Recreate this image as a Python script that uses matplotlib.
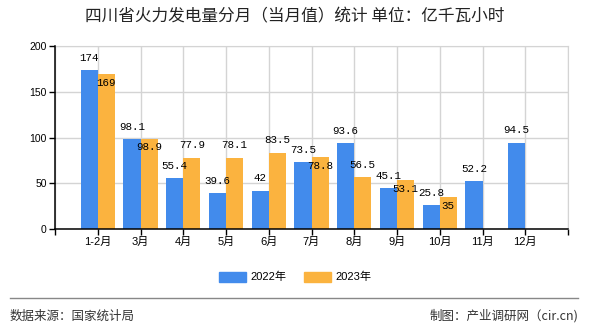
import numpy as np
import matplotlib
matplotlib.use("Agg")
import matplotlib.pyplot as plt
from matplotlib.patches import Patch
from matplotlib.lines import Line2D

plt.rcParams['font.family'] = ['Liberation Sans', 'Noto Sans CJK SC']

months = ['1-2月', '3月', '4月', '5月', '6月', '7月', '8月', '9月', '10月', '11月', '12月']
v2022 = [174, 98.1, 55.4, 39.6, 42, 73.5, 93.6, 45.1, 25.8, 52.2, 94.5]
v2023 = [169, 98.9, 77.9, 78.1, 83.5, 78.8, 56.5, 53.1, 35, np.nan, np.nan]
series_names = ['2022年', '2023年']
c2022 = '#428BEC'
c2023 = '#FBB33F'

fig = plt.figure(figsize=(5.9, 3.3), dpi=100)
ax = fig.add_axes([55 / 590, 1 - 229 / 330, 513 / 590, 183 / 330])

x = np.arange(1, len(months) + 1)
w = 0.4
ax.bar(x - w / 2, v2022, w, color=c2022, zorder=3)
ax.bar(x + w / 2, v2023, w, color=c2023, zorder=3)

# value labels, 2023 label goes under the bar top when it would hit the 2022 one
lab_font = dict(family='Liberation Mono', fontsize=7.8, ha='center', va='center', zorder=5)
for xi, b, o in zip(x, v2022, v2023):
    ax.annotate(f'{b:g}', (xi - w / 2, b), xytext=(0, 8.8), textcoords='offset points', **lab_font)
    if np.isnan(o):
        continue
    if abs(o - b) < 12:
        ax.annotate(f'{o:g}', (xi + w / 2, o), xytext=(0, -6.2), textcoords='offset points', **lab_font)
    else:
        ax.annotate(f'{o:g}', (xi + w / 2, o), xytext=(0, 9.2), textcoords='offset points', **lab_font)

ax.set_xlim(0, len(months) + 1)
ax.set_ylim(0, 200)
ax.set_yticks([0, 50, 100, 150, 200])
ax.set_xticks(np.arange(0, len(months) + 2))
ax.set_xticklabels([''] + months + [''])
ax.tick_params(axis='both', direction='out', length=4, width=1, color='black', labelsize=7.5, pad=2)
ax.tick_params(axis='x', labelsize=8)
ax.grid(True, color='#d4d4d4', lw=1, zorder=0)
for s in ['top', 'right']:
    ax.spines[s].set_color('#d4d4d4')
for s in ['left', 'bottom']:
    ax.spines[s].set_color('black')
    ax.spines[s].set_linewidth(1.1)
    ax.spines[s].set_zorder(4)

fig.text(0.5, 1 - 17 / 330, '四川省火力发电量分月（当月值）统计 单位：亿千瓦小时',
         ha='center', va='center', fontsize=12, family='Noto Sans CJK SC', color='#222222')

handles = [Patch(color=c2022), Patch(color=c2023)]
fig.legend(handles, series_names, loc='center', bbox_to_anchor=(0.5, 1 - 277 / 330), ncol=2,
           frameon=False, handlelength=2.4, handleheight=1.0, handletextpad=0.4,
           columnspacing=1.6, prop={'family': ['Liberation Sans', 'Noto Sans CJK SC'], 'size': 8})

fig.add_artist(Line2D([10 / 590, 578 / 590], [1 - 298 / 330, 1 - 298 / 330], color='#888888', lw=1))
fig.text(10 / 590, 1 - 316 / 330, '数据来源：国家统计局', ha='left', va='center', fontsize=9,
         family='Noto Sans CJK SC', color='#333333')
fig.text(578 / 590, 1 - 316 / 330, '制图：产业调研网（cir.cn)', ha='right', va='center', fontsize=9,
         family='Noto Sans CJK SC', color='#333333')

fig.savefig('out.png', dpi=100)
